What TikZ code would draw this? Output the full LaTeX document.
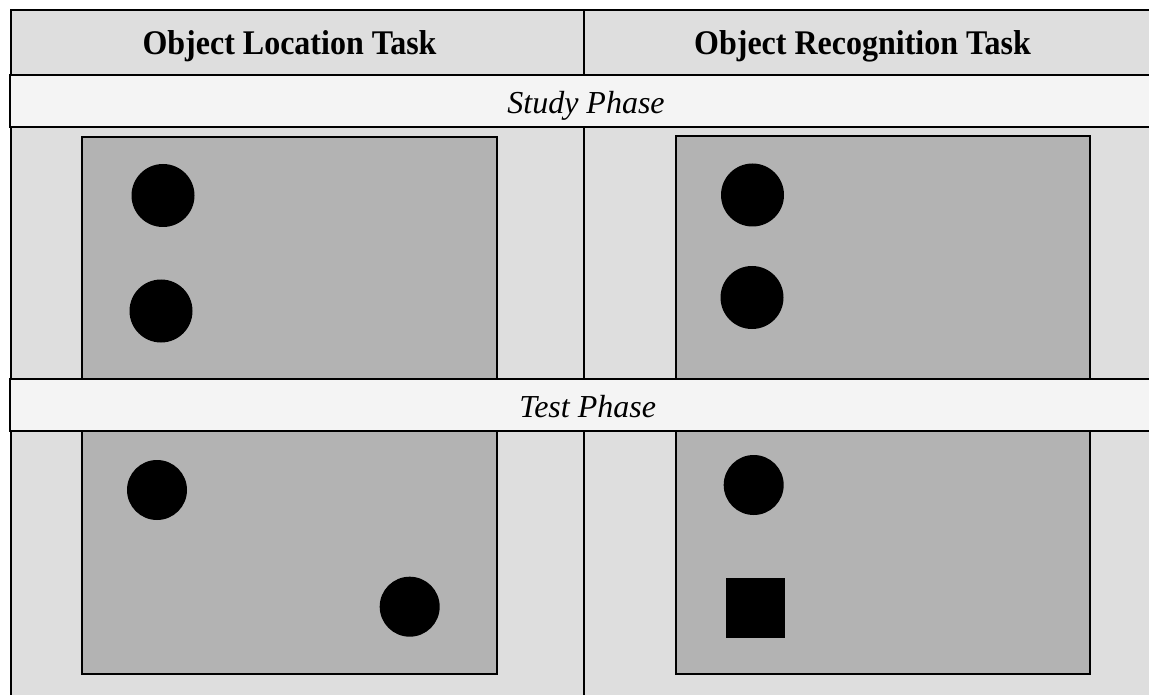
\documentclass[tikz,border=0pt]{standalone}
\usepackage{fontspec}
\setmainfont{Liberation Serif}
\definecolor{headgray}{HTML}{DEDEDE}
\definecolor{bandgray}{HTML}{F4F4F4}
\definecolor{boxgray}{HTML}{B3B3B3}
\tikzset{
  frameline/.style={draw=black, line width=1.5pt},
  stimbox/.style={draw=black, fill=boxgray, line width=1.6pt},
  phaseband/.style={draw=black, fill=bandgray, line width=1.5pt},
  dot/.style={fill=black},
  headtext/.style={font=\fontsize{32}{36}\selectfont\bfseries, inner sep=0pt, yscale=1.08},
  phasetext/.style={font=\fontsize{32}{36}\selectfont\itshape, inner sep=0pt},
}
\begin{document}
\begin{tikzpicture}[x=1pt,y=-1pt]
\useasboundingbox (0,0) rectangle (1149,695);
\begin{scope}
\clip (0,0) rectangle (1149,695);
% background of table
\fill[white] (0,0) rectangle (1149,695);
\filldraw[frameline, fill=headgray] (11,10) rectangle (1160,720);
% middle divider
\draw[frameline] (584,10) -- (584,720);
% header bottom
\draw[frameline] (11,75) -- (1160,75);
% stimulus boxes
\filldraw[stimbox] (82,137) rectangle (497,379);
\filldraw[stimbox] (676,136) rectangle (1090,379);
\filldraw[stimbox] (82,431) rectangle (497,674);
\filldraw[stimbox] (676,431) rectangle (1090,674);
% phase bands
\filldraw[phaseband] (10,75) rectangle (1160,127);
\filldraw[phaseband] (10,379) rectangle (1160,431);
\end{scope}
% header texts
\node[headtext, anchor=base] (hloc) at (289.5,54.3) {Object Location Task};
\node[headtext, anchor=base east] (hrec) at (1031,54.3) {Object Recognition Task};
\node[phasetext, anchor=base] (study) at (586,114) {Study Phase};
\node[phasetext, anchor=base] (test) at (587.7,417.7) {Test Phase};
% study phase objects
\fill[dot] (163,195.5) circle (31.5);
\fill[dot] (161,311) circle (31.5);
\fill[dot] (752.5,195) circle (31.5);
\fill[dot] (752,297.5) circle (31.5);
% test phase objects
\fill[dot] (157,490) circle (30);
\fill[dot] (409.7,606.7) circle (30);
\fill[dot] (753.7,485) circle (30);
\fill[dot] (725.7,578.3) rectangle (784.7,637.7);
\end{tikzpicture}
\end{document}
